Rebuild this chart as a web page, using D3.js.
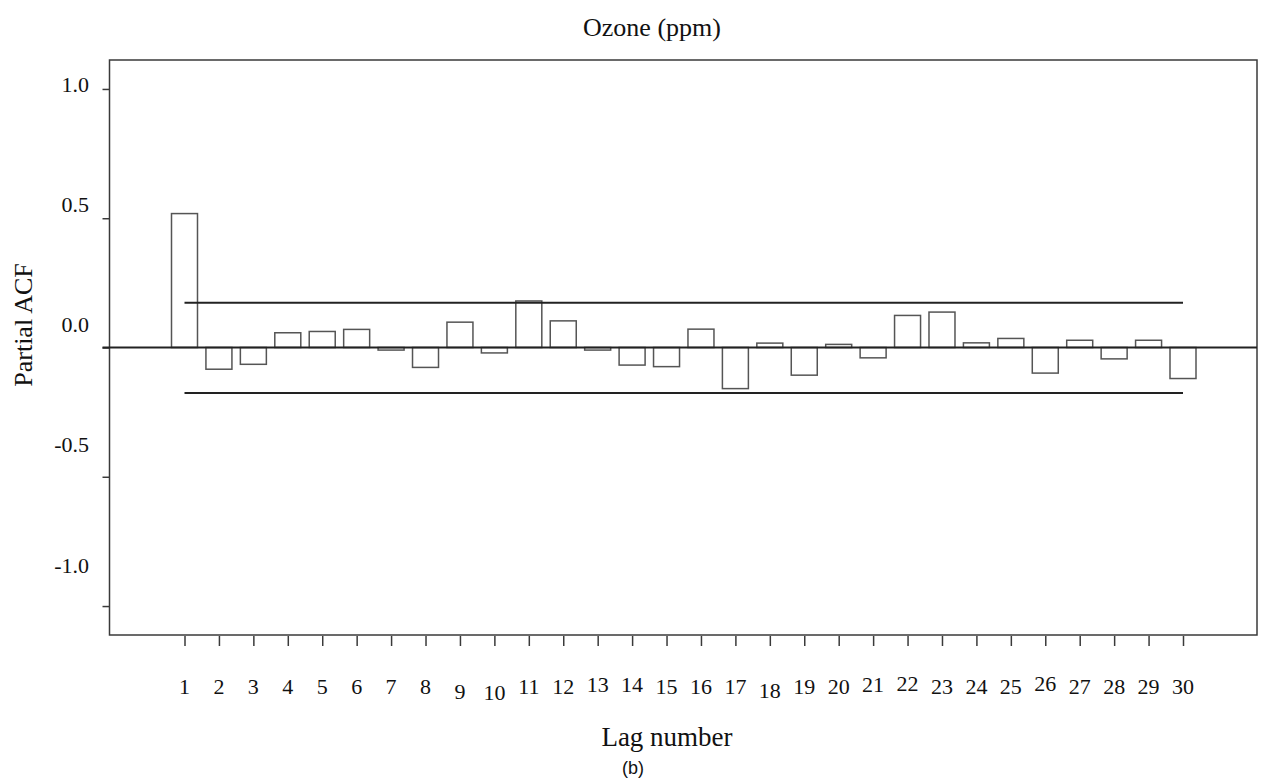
<!DOCTYPE html>
<html>
<head>
<meta charset="utf-8">
<script src="https://cdn.jsdelivr.net/npm/d3@7"></script>
<style>
  html, body { margin: 0; padding: 0; background: #fff; }
  svg { display: block; }
  text { font-family: "Liberation Serif", "Times New Roman", serif; fill: #111; }
</style>
</head>
<body>
<svg id="chart" width="1262" height="780"></svg>
<script>
// ---- data ----
const lags = [1, 2, 3, 4, 5, 6, 7, 8, 9, 10, 11, 12, 13, 14, 15,
              16, 17, 18, 19, 20, 21, 22, 23, 24, 25, 26, 27, 28, 29, 30];
const pacf = [0.518, -0.084, -0.065, 0.057, 0.062, 0.070, -0.010, -0.077, 0.098, -0.021,
              0.180, 0.103, -0.010, -0.068, -0.074, 0.071, -0.159, 0.017, -0.107, 0.012,
              -0.040, 0.124, 0.137, 0.018, 0.035, -0.099, 0.028, -0.044, 0.028, -0.120];
const confLimits = [0.173, -0.176];
const yTickValues = [1.0, 0.5, 0.0, -0.5, -1.0];
const yTickLabels = ["1.0", "0.5", "0.0", "-0.5", "-1.0"];
const xTickLabels = lags.map(String);
const chartTitle = "Ozone (ppm)";
const xTitle = "Lag number";
const yTitle = "Partial ACF";
const panelTag = "(b)";

// ---- layout ----
const frame = { left: 109.5, right: 1257, top: 60, bottom: 635 };
const svg = d3.select("#chart");

const y = d3.scaleLinear().domain([-1.112, 1.112]).range([frame.bottom, frame.top]);
const x = d3.scaleLinear().domain([1, 30]).range([184.5, 1183]);
// tick labels in the original sit slightly off their ticks
const yLabel = d3.scaleLinear().domain([1, -1]).range([84, 565]);
const xLabelDy = { 9: 5, 10: 6, 13: -2, 14: -2, 18: 4, 21: -2, 22: -3, 26: -3 };

const step = x(2) - x(1);
const barW = step * 0.755;

// frame
svg.append("rect")
  .attr("x", frame.left).attr("y", frame.top)
  .attr("width", frame.right - frame.left).attr("height", frame.bottom - frame.top)
  .attr("fill", "none").attr("stroke", "#3a3a3a").attr("stroke-width", 1.5);

// y axis ticks
const yAxis = d3.axisLeft(y).tickValues(yTickValues).tickSize(7).tickFormat("");
const gy = svg.append("g").attr("transform", `translate(${frame.left},0)`).call(yAxis);
gy.select(".domain").remove();
gy.selectAll(".tick line").attr("stroke", "#3a3a3a").attr("stroke-width", 1.5);

svg.append("g").selectAll("text")
  .data(yTickValues)
  .join("text")
  .attr("x", 89)
  .attr("y", d => yLabel(d) + 7.5)
  .attr("text-anchor", "end")
  .attr("font-size", 22)
  .text((d, i) => yTickLabels[i]);

// x axis ticks
const xAxis = d3.axisBottom(x).tickValues(lags).tickSize(10).tickFormat("");
const gx = svg.append("g").attr("transform", `translate(0,${frame.bottom + 1})`).call(xAxis);
gx.select(".domain").remove();
gx.selectAll(".tick line").attr("stroke", "#3a3a3a").attr("stroke-width", 1.5);

svg.append("g").selectAll("text")
  .data(lags)
  .join("text")
  .attr("x", d => x(d))
  .attr("y", d => 694 + (xLabelDy[d] || 0))
  .attr("text-anchor", "middle")
  .attr("font-size", 22)
  .text((d, i) => xTickLabels[i]);

// bars
svg.append("g").selectAll("rect")
  .data(lags.map((l, i) => ({ lag: l, v: pacf[i] })))
  .join("rect")
  .attr("x", d => x(d.lag) - barW / 2)
  .attr("y", d => Math.min(y(d.v), y(0)))
  .attr("width", barW)
  .attr("height", d => Math.abs(y(d.v) - y(0)))
  .attr("fill", "#fff")
  .attr("stroke", "#555")
  .attr("stroke-width", 1.5);

// zero line
svg.append("line")
  .attr("x1", frame.left - 7).attr("x2", frame.right)
  .attr("y1", y(0)).attr("y2", y(0))
  .attr("stroke", "#222").attr("stroke-width", 2);

// confidence limits
svg.append("g").selectAll("line")
  .data(confLimits)
  .join("line")
  .attr("x1", x(lags[0])).attr("x2", x(lags[lags.length - 1]))
  .attr("y1", d => y(d)).attr("y2", d => y(d))
  .attr("stroke", "#222").attr("stroke-width", 2);

// titles
svg.append("text")
  .attr("x", 652).attr("y", 36)
  .attr("text-anchor", "middle").attr("font-size", 26)
  .text(chartTitle);

svg.append("text")
  .attr("transform", "translate(32,325) rotate(-90)")
  .attr("text-anchor", "middle").attr("font-size", 26)
  .text(yTitle);

svg.append("text")
  .attr("x", 667).attr("y", 746)
  .attr("text-anchor", "middle").attr("font-size", 27)
  .text(xTitle);

svg.append("text")
  .attr("x", 633).attr("y", 774)
  .attr("text-anchor", "middle").attr("font-size", 18)
  .style("font-family", "'Liberation Sans', Arial, sans-serif")
  .text(panelTag);
</script>
</body>
</html>
